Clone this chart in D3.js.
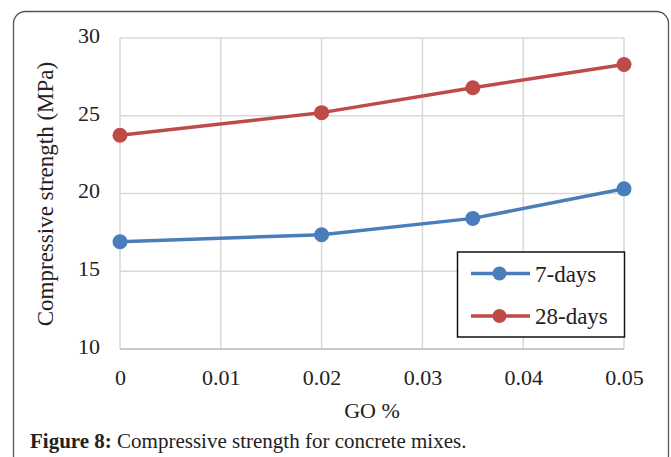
<!DOCTYPE html>
<html><head><meta charset="utf-8">
<script src="https://cdn.jsdelivr.net/npm/d3@7"></script>
<style>html,body{margin:0;padding:0;background:#fff;}svg{display:block;}</style>
</head><body>
<svg id="c" width="671" height="457"></svg>
<script>
const goPct = [0, 0.02, 0.035, 0.05];
const days7 = [16.9, 17.35, 18.4, 20.3];
const days28 = [23.75, 25.2, 26.8, 28.3];
const seriesNames = ["7-days", "28-days"];
const xTicks = [0, 0.01, 0.02, 0.03, 0.04, 0.05];
const yTicks = [10, 15, 20, 25, 30];
const colors = ["#4a7ebb", "#be4b48"];

const svg = d3.select("#c");
const font = "'Liberation Serif', 'Times New Roman', serif";

// outer frame
svg.append("rect").attr("x", 13.5).attr("y", 11.5).attr("width", 655).attr("height", 456)
  .attr("rx", 12).attr("fill", "none").attr("stroke", "#555").attr("stroke-width", 1.3);

const x = d3.scaleLinear().domain([0, 0.05]).range([120, 624]);
const y = d3.scaleLinear().domain([10, 30]).range([349, 38]);

// gridlines
const g = svg.append("g");
g.selectAll(".vg").data(xTicks).join("line")
  .attr("x1", d => x(d)).attr("x2", d => x(d)).attr("y1", y(30)).attr("y2", y(10))
  .attr("stroke", "#d9d9d9").attr("stroke-width", 1.5);
g.selectAll(".hg").data(yTicks).join("line")
  .attr("x1", x(0)).attr("x2", x(0.05)).attr("y1", d => y(d)).attr("y2", d => y(d))
  .attr("stroke", "#d9d9d9").attr("stroke-width", 1.5);

// axes (labels only)
const xAxis = svg.append("g").attr("transform", `translate(0,${y(10)})`)
  .call(d3.axisBottom(x).tickValues(xTicks).tickSize(0).tickPadding(19).tickFormat(d => d === 0 ? "0" : d3.format(".2f")(d)));
const yAxis = svg.append("g").attr("transform", `translate(${x(0)},0)`)
  .call(d3.axisLeft(y).tickValues(yTicks).tickSize(0).tickPadding(20));
[xAxis, yAxis].forEach(a => {
  a.select(".domain").remove();
  a.selectAll("text").attr("font-family", font).attr("font-size", 22).attr("fill", "#222");
});
yAxis.selectAll("text").attr("dy", "0.2em");
xAxis.selectAll("text").attr("dy", "0.75em");

// bottom axis line
svg.append("line").attr("x1", x(0)).attr("x2", x(0.05)).attr("y1", y(10)).attr("y2", y(10))
  .attr("stroke", "#bfbfbf").attr("stroke-width", 1.5);

// titles
svg.append("text").attr("x", 372).attr("y", 418).attr("text-anchor", "middle")
  .attr("font-family", font).attr("font-size", 22).attr("fill", "#222").text("GO %");
svg.append("text").attr("transform", "translate(53,194) rotate(-90)").attr("text-anchor", "middle")
  .attr("font-family", font).attr("font-size", 23).attr("fill", "#222").text("Compressive strength (MPa)");

// series
const data = [days7, days28];
const line = d3.line().x((d, i) => x(goPct[i])).y(d => y(d));
data.forEach((vals, k) => {
  svg.append("path").datum(vals).attr("d", line).attr("fill", "none")
    .attr("stroke", colors[k]).attr("stroke-width", 3.5);
  svg.selectAll(".m" + k).data(vals).join("circle")
    .attr("cx", (d, i) => x(goPct[i])).attr("cy", d => y(d)).attr("r", 7.5).attr("fill", colors[k]);
});

// legend
const lg = svg.append("g");
lg.append("rect").attr("x", 457.5).attr("y", 252).attr("width", 167).attr("height", 85)
  .attr("fill", "#fff").attr("stroke", "#111").attr("stroke-width", 1.5);
seriesNames.forEach((n, k) => {
  const yy = 273.5 + k * 42.5;
  lg.append("line").attr("x1", 471).attr("x2", 530).attr("y1", yy).attr("y2", yy)
    .attr("stroke", colors[k]).attr("stroke-width", 3.5);
  lg.append("circle").attr("cx", 499.5).attr("cy", yy).attr("r", 7).attr("fill", colors[k]);
  lg.append("text").attr("x", 535).attr("y", yy).attr("dy", "0.35em")
    .attr("font-family", font).attr("font-size", 23).attr("fill", "#222").text(n);
});

// caption
const cap = svg.append("text").attr("x", 30).attr("y", 448)
  .attr("font-family", font).attr("font-size", 21).attr("fill", "#222");
cap.append("tspan").attr("font-weight", "bold").text("Figure 8:");
cap.append("tspan").text(" Compressive strength for concrete mixes.");
</script>
</body></html>
